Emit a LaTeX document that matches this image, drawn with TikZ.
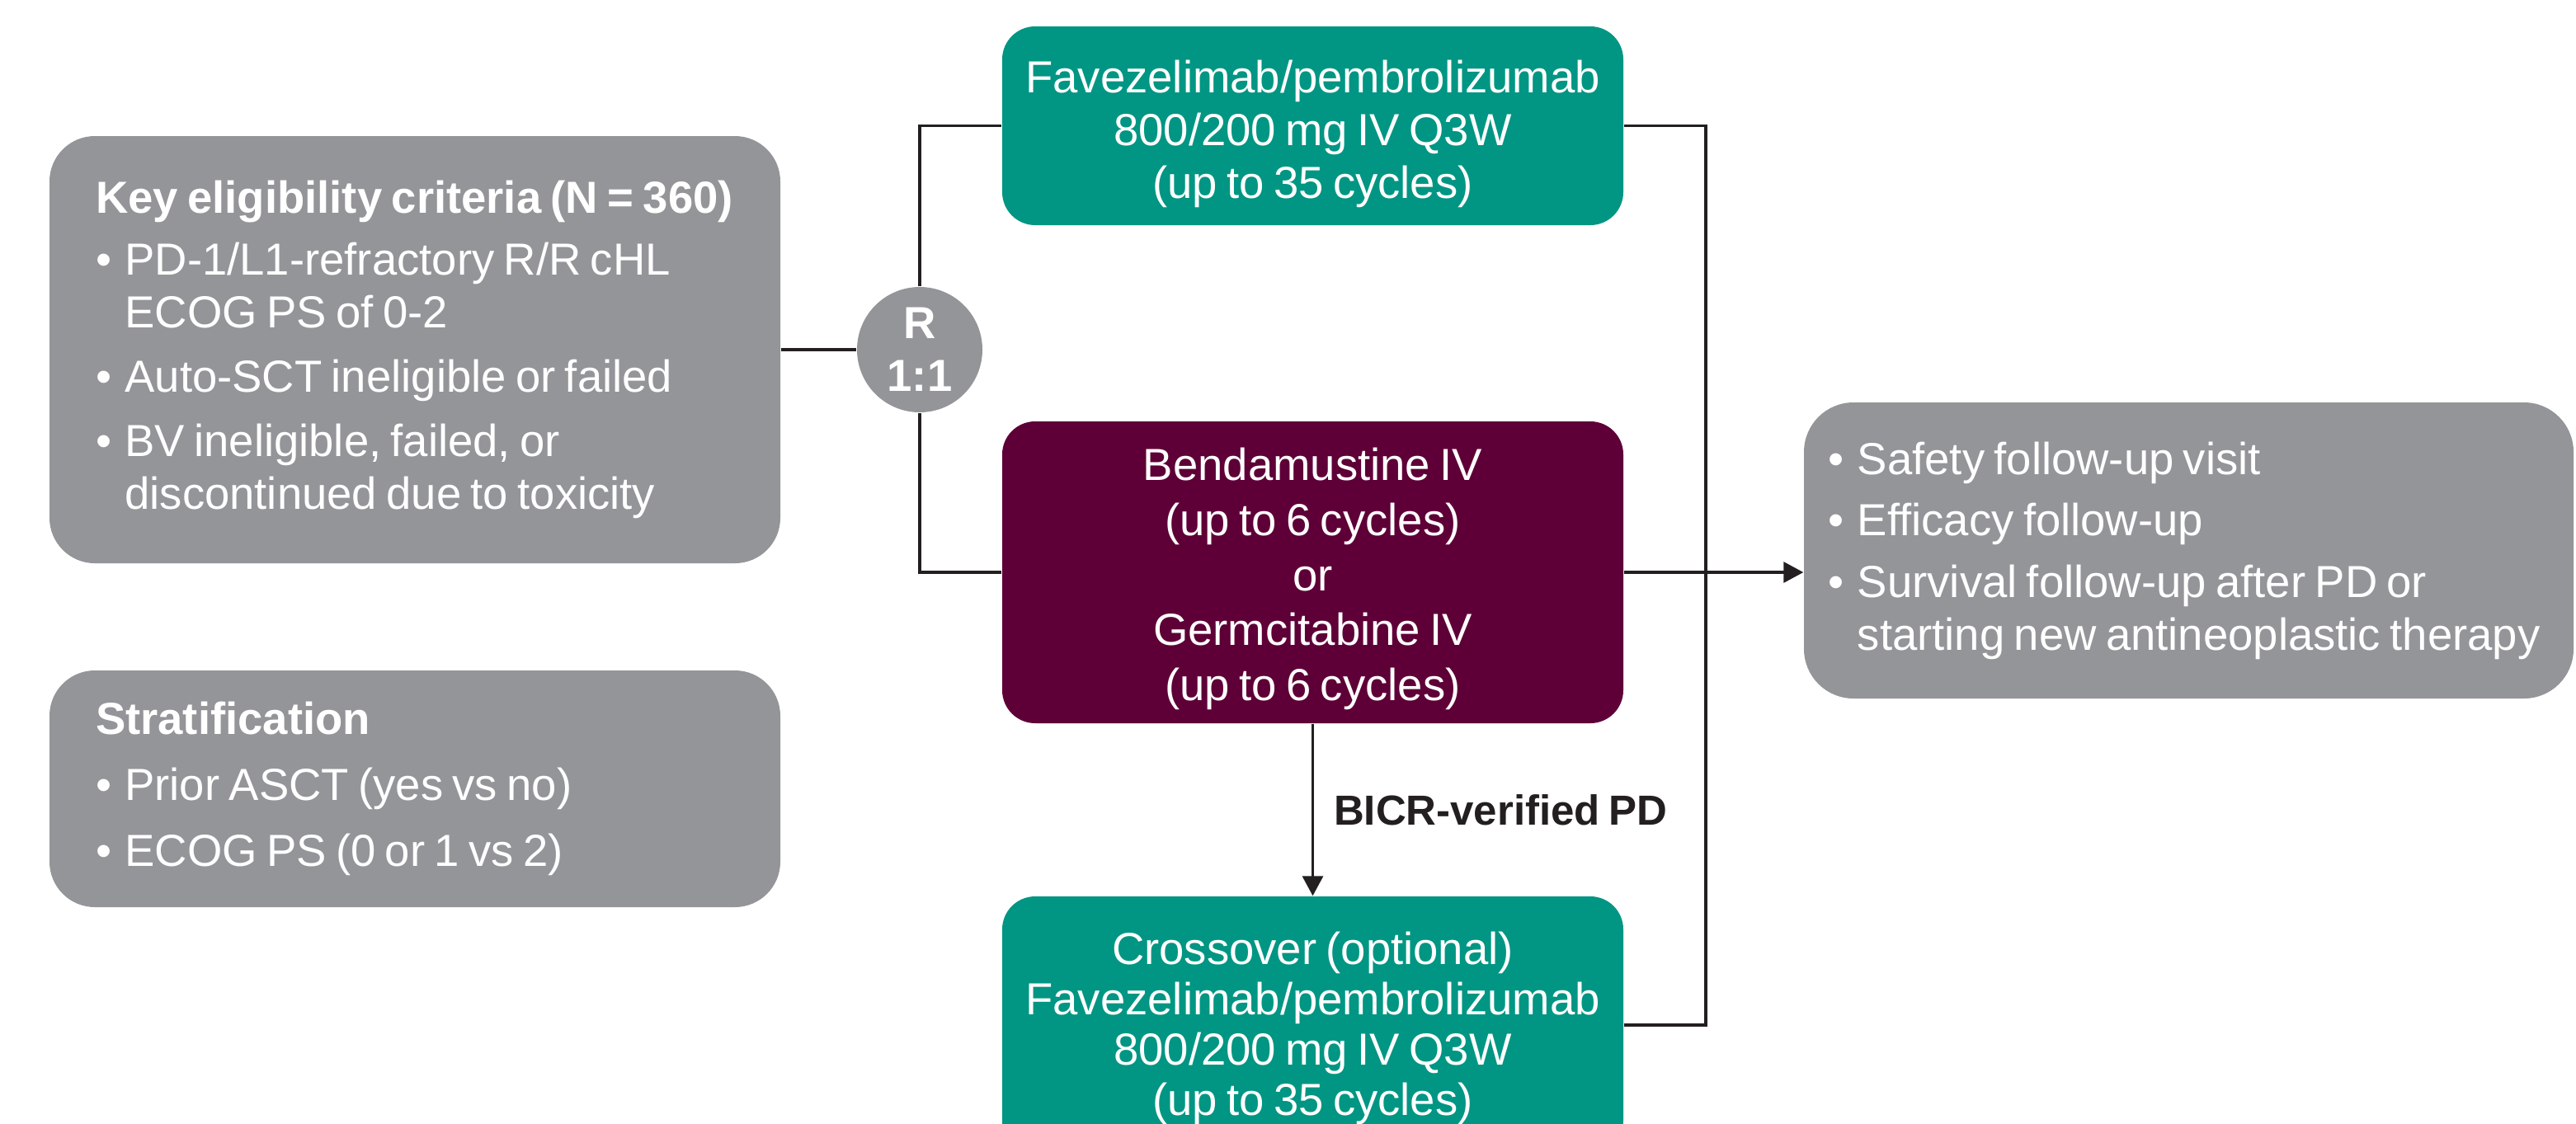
\documentclass[tikz,border=0pt]{standalone}
\usepackage{fontspec}
\setmainfont{Liberation Sans}[WordSpace=0.75]
\usetikzlibrary{positioning,arrows.meta}

\definecolor{boxgray}{HTML}{939598}
\definecolor{favteal}{HTML}{009683}
\definecolor{chemoplum}{HTML}{5E0037}
\definecolor{linedark}{HTML}{231F20}

\hyphenpenalty=10000
\newcommand{\bul}{\textbullet\hspace{0.3em}}
\newcommand{\hang}{\phantom{\bul}}

\tikzset{
    txt/.style={font=\fontsize{15.5}{18.2}\selectfont, text=white},
    infobox/.style={txt, fill=boxgray, rounded corners=0.55cm, align=flush left, inner sep=0pt},
    armbox/.style={rounded corners=0.4cm, inner sep=0pt, minimum width=7.53cm},
    armtext/.style={txt, align=center, inner sep=0pt},
    link/.style={draw=linedark, line width=0.9pt},
    arrowlink/.style={link, -{Triangle[length=0.24cm, width=0.25cm]}}
}

\begin{document}
\begin{tikzpicture}
    \clip (0, 0) rectangle (31.23, -13.62);
    \fill[white] (0, 0) rectangle (31.23, -13.62);

    % left column
    \node[infobox, minimum width=8.86cm, minimum height=5.18cm, text width=7.74cm] (elig) at (5.03, -4.24)
        {\mbox{\textbf{Key eligibility criteria (N = 360)}}\\[3pt]
         \bul PD-1/L1-refractory R/R cHL\\
         \hang ECOG PS of 0-2\\[4pt]
         \bul Auto-SCT ineligible or failed\\[4pt]
         \bul BV ineligible, failed, or\\
         \hang discontinued due to toxicity};
    \node[infobox, minimum width=8.86cm, minimum height=2.87cm, text width=7.74cm] (strat) at (5.03, -9.565)
        {\textbf{Stratification}\\[4.5pt]
         \bul Prior ASCT (yes vs no)\\[4.5pt]
         \bul ECOG PS (0 or 1 vs 2)};

    % randomisation
    \node[circle, fill=boxgray, minimum size=1.52cm, inner sep=0pt, txt, align=center,
        font=\fontsize{15.5}{18.2}\selectfont\bfseries] (rand) at (11.15, -4.24) {R\\1:1};

    % arms
    \node[armbox, fill=favteal, minimum height=2.41cm] (fav) at (15.915, -1.525) {};
    \node[armtext] (favtext) at ([yshift=-0.1cm]fav.center)
        {Favezelimab/pembrolizumab\\800/200 mg IV Q3W\\(up to 35 cycles)};
    \node[armbox, fill=chemoplum, minimum height=3.66cm] (benda) at (15.915, -6.94) {};
    \node[armtext, font=\fontsize{15.5}{19}\selectfont] (bendatext) at ([yshift=-0.08cm]benda.center)
        {Bendamustine IV\\(up to 6 cycles)\\or\\Germcitabine IV\\(up to 6 cycles)};
    \node[armbox, fill=favteal, minimum height=3.12cm] (cross) at (15.915, -12.43) {};
    \node[armtext, font=\fontsize{15.5}{17.4}\selectfont] (crosstext) at ([yshift=-0.04cm]cross.center)
        {Crossover (optional)\\Favezelimab/pembrolizumab\\800/200 mg IV Q3W\\(up to 35 cycles)};

    % follow-up
    \node[infobox, rounded corners=0.6cm, minimum width=9.33cm, minimum height=3.59cm, text width=8.74cm] (follow) at (26.535, -6.675)
        {\bul Safety follow-up visit\\[3pt]
         \bul Efficacy follow-up\\[3pt]
         \bul Survival follow-up after PD or\\
         \hang starting new antineoplastic therapy};

    \coordinate (merge) at (20.68, 0);

    % connectors
    \draw[link] (elig.east) -- (rand.west);
    \draw[link] (rand.north) |- (fav.west);
    \draw[link] (rand.south) |- (benda.west);
    \draw[link] (fav.east) -- (fav.east -| merge) |- (cross.east);
    \draw[arrowlink] (benda.east) -- (benda.east -| follow.west);
    \draw[arrowlink] (benda.south) -- (cross.north)
        node[midway, right=0.24cm, inner sep=0pt, text=linedark,
            font=\fontsize{14.5}{17}\selectfont\bfseries] (bicr) {BICR-verified PD};
\end{tikzpicture}
\end{document}
